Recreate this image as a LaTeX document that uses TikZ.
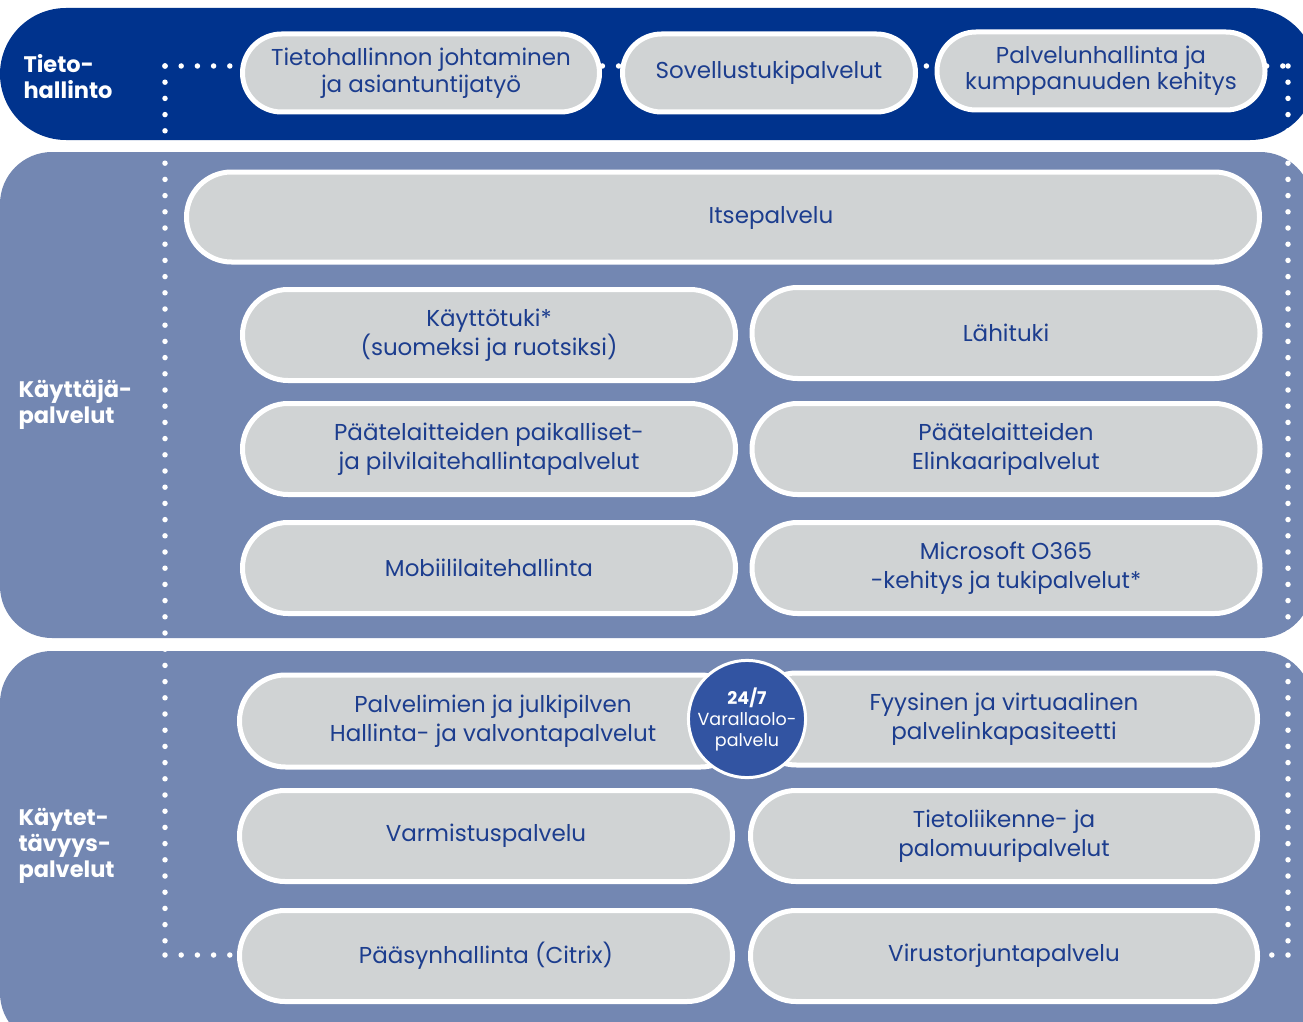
\documentclass[tikz,border=0pt]{standalone}
\usepackage{fontspec}
\setmainfont{Poppins}
\usetikzlibrary{shapes.misc}
\definecolor{navyband}{HTML}{00338D}
\definecolor{slateband}{HTML}{7387B2}
\definecolor{boxgray}{HTML}{D0D3D4}
\definecolor{textnavy}{HTML}{1C3D8E}
\definecolor{circblue}{HTML}{3254A2}
\tikzset{
  servicebox/.style={rounded rectangle, draw=white, line width=5pt, fill=boxgray,
    text=textnavy, align=center, inner sep=0pt, font=\fontsize{23}{29}\selectfont},
  grouplabel/.style={anchor=west, text=white, align=left, font=\bfseries\fontsize{22.5}{26}\selectfont},
  dotline/.style={white, line width=5.5pt, line cap=round, dash pattern=on 0pt off 16.2pt},
}
\begin{document}
\begin{tikzpicture}[x=1pt,y=-1pt]
  \useasboundingbox (0,0) rectangle (1303,1022);
  \clip (0,0) rectangle (1303,1022);
  \fill[white] (0,0) rectangle (1303,1022);
  % bands
  \fill[navyband, rounded corners=66pt] (0,8) rectangle (1316,140);
  \fill[slateband, rounded corners=52pt] (0,152) rectangle (1312,638);
  \fill[slateband, rounded corners=52pt] (0,651) rectangle (1312,1045);
  % dotted frame
  \coordinate (dTL) at (165,66);
  \coordinate (dTR) at (1288,66);
  \coordinate (dBL) at (165,955);
  \coordinate (dBR) at (1288,955);
  \coordinate (dBLend) at (240,955);
  \coordinate (dBRend) at (1262,955);
  \draw[dotline] (dTL) -- (dTR);
  \draw[dotline] (dTL) -- (dBL);
  \draw[dotline] (dBL) -- (dBLend);
  \draw[dotline] (dTR) -- (dBR);
  \draw[dotline] (dBR) -- (dBRend);
  % group labels
  \node[grouplabel] (tieto) at (20,77) {Tieto-\\hallinto};
  \node[grouplabel] (kayttaja) at (15,404) {Käyttäjä-\\palvelut};
  \node[grouplabel] (kaytettavyys) at (15,846) {Käytet-\\tävyys-\\palvelut};
  % tietohallinto
  \node[servicebox, minimum width=357pt, minimum height=78pt, font=\fontsize{23}{27}\selectfont] (johtaminen) at (421,73) {Tietohallinnon johtaminen\\ja asiantuntijatyö};
  \node[servicebox, minimum width=293pt, minimum height=78pt] (sovellus) at (769,73) {Sovellustukipalvelut};
  \node[servicebox, minimum width=328pt, minimum height=78pt, font=\fontsize{23}{26}\selectfont] (palvelunhallinta) at (1101,71) {Palvelunhallinta ja\\kumppanuuden kehitys};
  % kayttajapalvelut
  \node[servicebox, minimum width=1073pt, minimum height=90pt,
    label={[text=textnavy, font=\fontsize{23}{29}\selectfont, xshift=48pt, yshift=-1pt]center:Itsepalvelu}] (itse) at (723,217) {};
  \node[servicebox, minimum width=493pt, minimum height=91pt] (kaytto) at (489,335) {Käyttötuki*\\(suomeksi ja ruotsiksi)};
  \node[servicebox, minimum width=508pt, minimum height=91pt] (lahi) at (1006,333) {Lähituki};
  \node[servicebox, minimum width=493pt, minimum height=91pt] (paikalliset) at (489,449) {Päätelaitteiden paikalliset-\\ja pilvilaitehallintapalvelut};
  \node[servicebox, minimum width=508pt, minimum height=91pt] (elinkaari) at (1006,449) {Päätelaitteiden\\Elinkaaripalvelut};
  \node[servicebox, minimum width=493pt, minimum height=91pt] (mobiili) at (489,568) {Mobiililaitehallinta};
  \node[servicebox, minimum width=508pt, minimum height=91pt] (microsoft) at (1006,568) {Microsoft O365\\-kehitys ja tukipalvelut*};
  % kaytettavyyspalvelut
  \node[servicebox, minimum width=507pt, minimum height=92pt] (palvelimet) at (493,721) {Palvelimien ja julkipilven\\Hallinta- ja valvontapalvelut};
  \node[servicebox, minimum width=507pt, minimum height=92pt] (fyysinen) at (1004,719) {Fyysinen ja virtuaalinen\\palvelinkapasiteetti};
  \node[circle, fill=circblue, draw=white, line width=3pt, minimum size=116pt, inner sep=0pt,
    text=white, align=center, font=\fontsize{17.5}{21}\selectfont] (varallaolo) at (747,719) {\textbf{24/7}\\Varallaolo-\\palvelu};
  \node[servicebox, minimum width=493pt, minimum height=91pt] (varmistus) at (486,836) {Varmistuspalvelu};
  \node[servicebox, minimum width=507pt, minimum height=91pt] (tietoliikenne) at (1004,836) {Tietoliikenne- ja\\palomuuripalvelut};
  \node[servicebox, minimum width=493pt, minimum height=91pt] (paasy) at (486,956) {Pääsynhallinta (Citrix)};
  \node[servicebox, minimum width=507pt, minimum height=91pt] (virus) at (1004,956) {Virustorjuntapalvelu};
\end{tikzpicture}
\end{document}
